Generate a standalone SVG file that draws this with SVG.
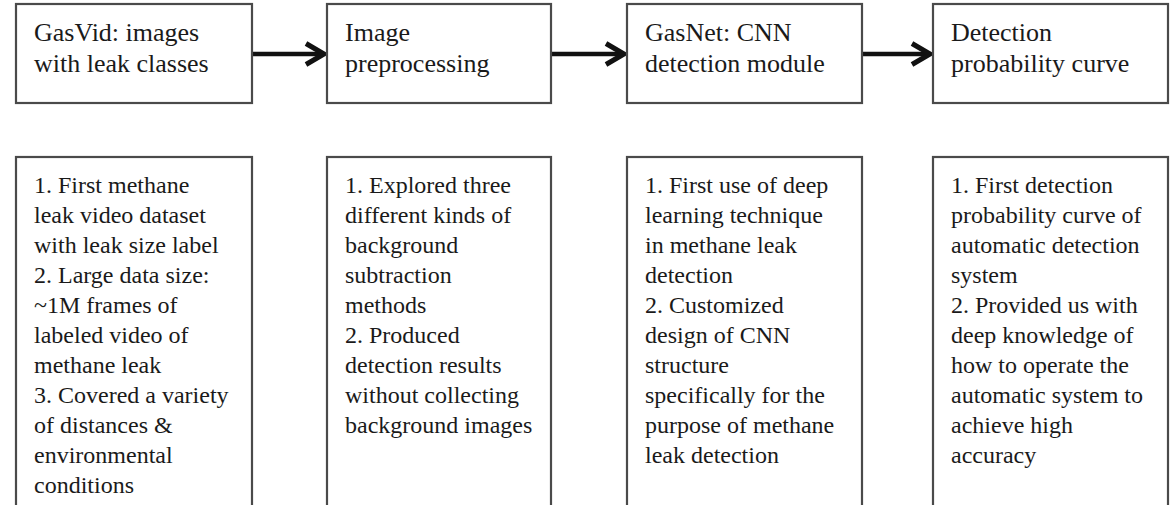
<svg xmlns="http://www.w3.org/2000/svg" width="1170" height="505" viewBox="0 0 1170 505">
<defs>
<style>
.box{fill:#fff;stroke:#4a4a4a;stroke-width:2.2}
.t{font-family:"Liberation Serif","Times New Roman",serif;font-size:26px;fill:#1a1a1a}
.b{font-family:"Liberation Serif","Times New Roman",serif;font-size:24px;fill:#1a1a1a}
.ln{stroke:#111;stroke-width:4.5;fill:none}
.hd{stroke:#111;stroke-width:5;fill:none;stroke-linejoin:miter;stroke-linecap:butt}
</style>
</defs>
<rect width="1170" height="505" fill="#fff"/>
<g id="connectors">
<line class="ln" x1="252" y1="54" x2="322" y2="54"/>
<polyline class="hd" points="306,43.5 324,54 306,64.5"/>
<line class="ln" x1="551" y1="54" x2="622" y2="54"/>
<polyline class="hd" points="606,43.5 624,54 606,64.5"/>
<line class="ln" x1="862" y1="54" x2="928" y2="54"/>
<polyline class="hd" points="912,43.5 930,54 912,64.5"/>
</g>
<g id="node-gasvid">
<rect class="box" x="16" y="4" width="236" height="99"/>
<text class="t" x="34" y="41">GasVid: images</text>
<text class="t" x="34" y="72">with leak classes</text>
</g>
<g id="node-preprocessing">
<rect class="box" x="327" y="4" width="224" height="99"/>
<text class="t" x="345" y="41">Image</text>
<text class="t" x="345" y="72">preprocessing</text>
</g>
<g id="node-gasnet">
<rect class="box" x="627" y="4" width="235" height="99"/>
<text class="t" x="645" y="41">GasNet: CNN</text>
<text class="t" x="645" y="72">detection module</text>
</g>
<g id="node-curve">
<rect class="box" x="933" y="4" width="235" height="99"/>
<text class="t" x="951" y="41">Detection</text>
<text class="t" x="951" y="72">probability curve</text>
</g>
<g id="desc-gasvid">
<rect class="box" x="16" y="157" width="236" height="360"/>
<text class="b" x="34" y="193">1. First methane</text>
<text class="b" x="34" y="223">leak video dataset</text>
<text class="b" x="34" y="253">with leak size label</text>
<text class="b" x="34" y="283">2. Large data size:</text>
<text class="b" x="34" y="313">~1M frames of</text>
<text class="b" x="34" y="343">labeled video of</text>
<text class="b" x="34" y="373">methane leak</text>
<text class="b" x="34" y="403">3. Covered a variety</text>
<text class="b" x="34" y="433">of distances &amp;</text>
<text class="b" x="34" y="463">environmental</text>
<text class="b" x="34" y="493">conditions</text>
</g>
<g id="desc-preprocessing">
<rect class="box" x="327" y="157" width="224" height="360"/>
<text class="b" x="345" y="193">1. Explored three</text>
<text class="b" x="345" y="223">different kinds of</text>
<text class="b" x="345" y="253">background</text>
<text class="b" x="345" y="283">subtraction</text>
<text class="b" x="345" y="313">methods</text>
<text class="b" x="345" y="343">2. Produced</text>
<text class="b" x="345" y="373">detection results</text>
<text class="b" x="345" y="403">without collecting</text>
<text class="b" x="345" y="433">background images</text>
</g>
<g id="desc-gasnet">
<rect class="box" x="627" y="157" width="235" height="360"/>
<text class="b" x="645" y="193">1. First use of deep</text>
<text class="b" x="645" y="223">learning technique</text>
<text class="b" x="645" y="253">in methane leak</text>
<text class="b" x="645" y="283">detection</text>
<text class="b" x="645" y="313">2. Customized</text>
<text class="b" x="645" y="343">design of CNN</text>
<text class="b" x="645" y="373">structure</text>
<text class="b" x="645" y="403">specifically for the</text>
<text class="b" x="645" y="433">purpose of methane</text>
<text class="b" x="645" y="463">leak detection</text>
</g>
<g id="desc-curve">
<rect class="box" x="933" y="157" width="235" height="360"/>
<text class="b" x="951" y="193">1. First detection</text>
<text class="b" x="951" y="223">probability curve of</text>
<text class="b" x="951" y="253">automatic detection</text>
<text class="b" x="951" y="283">system</text>
<text class="b" x="951" y="313">2. Provided us with</text>
<text class="b" x="951" y="343">deep knowledge of</text>
<text class="b" x="951" y="373">how to operate the</text>
<text class="b" x="951" y="403">automatic system to</text>
<text class="b" x="951" y="433">achieve high</text>
<text class="b" x="951" y="463">accuracy</text>
</g>
</svg>
